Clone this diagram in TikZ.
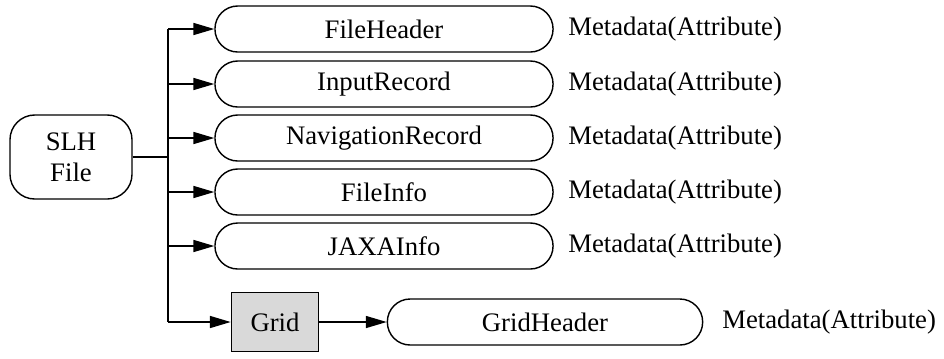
\documentclass[tikz,border=0pt]{standalone}
\usepackage{fontspec}
\setmainfont{Liberation Serif}
\usetikzlibrary{arrows.meta}
\tikzset{
  base/.style={font=\fontsize{19}{22}\selectfont},
  pill/.style={base, draw, line width=1pt, rounded corners=0.57cm,
    minimum width=8.45cm, minimum height=1.15cm, inner sep=0pt},
  meta/.style={base, anchor=west, inner sep=0pt},
  arr/.style={line width=1pt, -{Triangle[length=0.52cm, width=0.3cm]}},
}
\begin{document}
\begin{tikzpicture}[x=0.025cm, y=-0.025cm]
    \useasboundingbox (0,0) rectangle (944,358);

    % 根节点
    \node[base, draw, line width=1pt, rounded corners=0.62cm, minimum width=3.05cm,
      minimum height=2.1cm, align=center, inner sep=0pt] (slh) at (71,157) {SLH\\File};

    % 分支节点
    \node[pill] (hdr) at (384,29) {FileHeader};
    \node[pill] (inp) at (384,84) {InputRecord};
    \node[pill] (nav) at (384,138) {NavigationRecord};
    \node[pill] (inf) at (384,192) {FileInfo};
    \node[pill] (jax) at (384,246) {JAXAInfo};
    \node[base, draw, line width=1pt, fill=black!15, minimum width=2.18cm,
      minimum height=1.47cm, inner sep=0pt] (grid) at (275,322) {Grid};
    \node[pill, minimum width=7.88cm] (ghd) at (545,322) {GridHeader};

    % 元数据
    \node[meta] (m1) at (568,29) {Metadata(Attribute)};
    \node[meta] (m2) at (568,84) {Metadata(Attribute)};
    \node[meta] (m3) at (568,138) {Metadata(Attribute)};
    \node[meta] (m4) at (568,192) {Metadata(Attribute)};
    \node[meta] (m5) at (568,246) {Metadata(Attribute)};
    \node[meta] (m6) at (722,322) {Metadata(Attribute)};

    % 连线
    \coordinate (top) at (168,29);
    \coordinate (bot) at (168,322);
    \draw[line width=1pt] (slh.east) -- (slh.east -| top);
    \draw[line width=1pt] (top) -- (bot);
    \draw[arr] (top) -- (hdr.west);
    \draw[arr] (inp.west -| top) -- (inp.west);
    \draw[arr] (nav.west -| top) -- (nav.west);
    \draw[arr] (inf.west -| top) -- (inf.west);
    \draw[arr] (jax.west -| top) -- (jax.west);
    \draw[arr] (bot) -- (grid.west);
    \draw[arr] (grid.east) -- (ghd.west);
\end{tikzpicture}
\end{document}
